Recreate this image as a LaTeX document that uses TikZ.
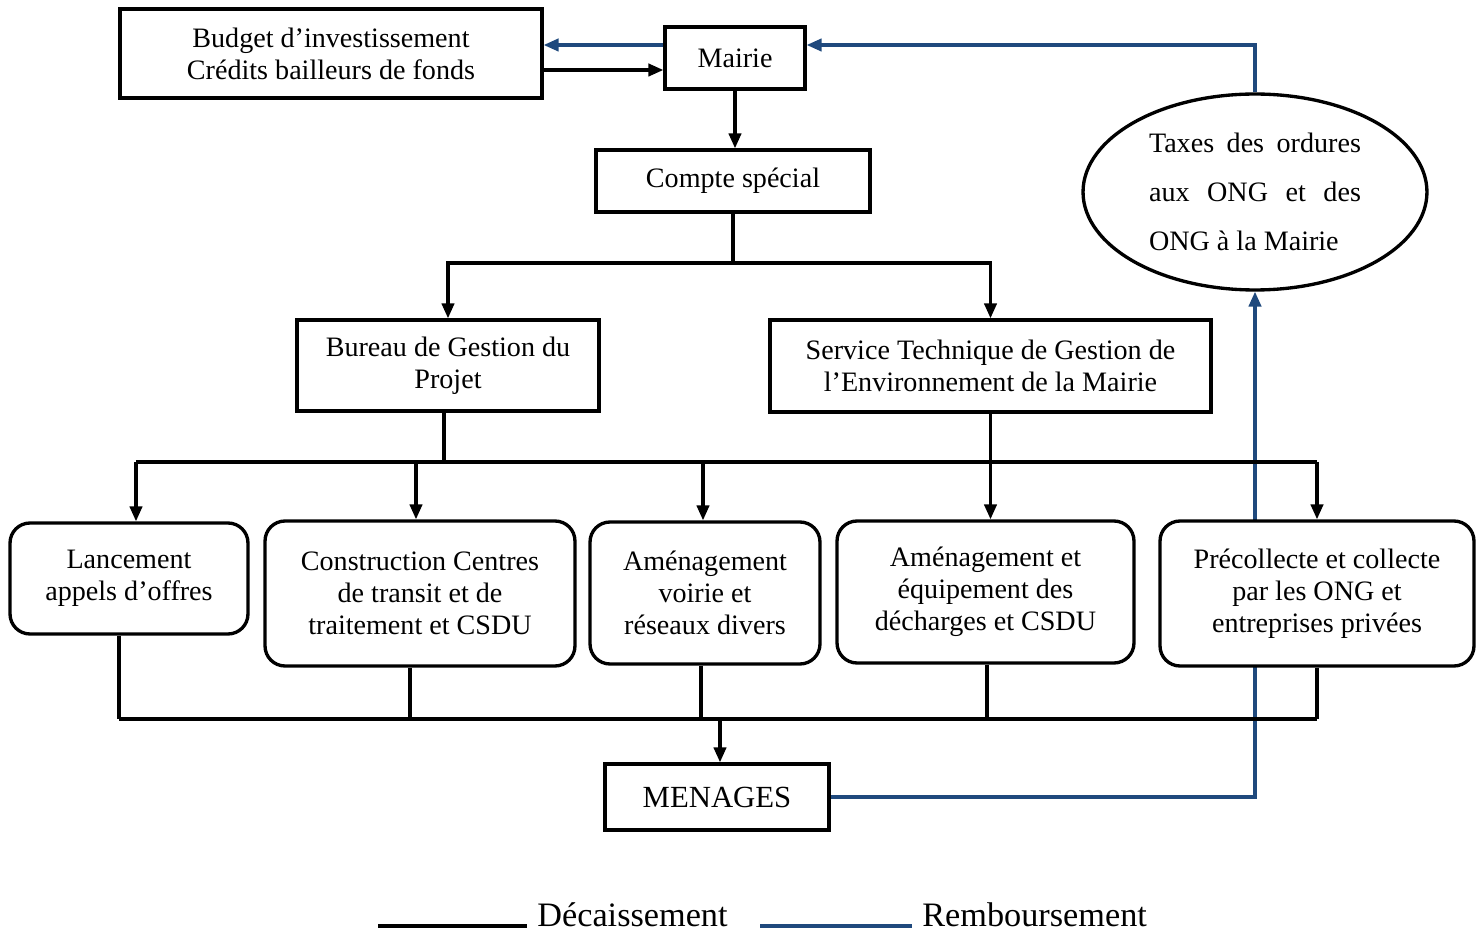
\documentclass[tikz,border=0pt]{standalone}
\usepackage{fontspec}
\setmainfont{Liberation Serif}
\usetikzlibrary{arrows.meta,backgrounds,shapes.geometric}
\definecolor{rblue}{HTML}{1F497D}
\begin{document}
\begin{tikzpicture}[x=0.02cm,y=-0.02cm,
 txt/.style={font=\fontsize{16}{18.1}\selectfont},
 box/.style={txt,draw,line width=1.9pt,fill=white,inner sep=0pt,align=center},
 rbox/.style={box,rounded corners=0.4cm},
 line/.style={line width=1.8pt},
 arr/.style={line,-{Triangle[length=8.5pt,width=7pt]}},
 bline/.style={line width=1.8pt,draw=rblue},
 barr/.style={bline,-{Triangle[length=8.5pt,width=7pt]}},
 legtxt/.style={font=\fontsize{19.5}{22}\selectfont,inner sep=0pt,anchor=base west},
]
\useasboundingbox (0,0) rectangle (1482,932);

% nodes
\node[box,minimum width=8.44cm,minimum height=1.78cm] (budget) at (331,53.5) {Budget d’investissement\\Crédits bailleurs de fonds};
\node[box,minimum width=2.8cm,minimum height=1.24cm] (mairie) at (735,58) {Mairie};
\node[box,minimum width=5.48cm,minimum height=1.24cm] (compte) at (733,181) {Compte spécial};
\node[box,minimum width=6.04cm,minimum height=1.82cm] (bureau) at (448,365.5) {Bureau de Gestion du\\Projet};
\node[box,minimum width=8.82cm,minimum height=1.84cm] (service) at (990.5,366) {Service Technique de Gestion de\\l’Environnement de la Mairie};
\node[txt,draw,ellipse,line width=1.9pt,fill=white,inner sep=0pt,minimum width=6.88cm,minimum height=3.92cm] (ell) at (1255,192)
 {\parbox{4.24cm}{\baselineskip=27.8pt
  \hbox to \linewidth{Taxes\hfill des\hfill ordures}
  \hbox to \linewidth{aux\hfill ONG\hfill et\hfill des}
  \hbox{ONG à la Mairie}}};

\node[rbox,minimum width=4.76cm,minimum height=2.22cm] (lanc) at (129,578.5) {Lancement\\appels d’offres};
\node[rbox,minimum width=6.2cm,minimum height=2.9cm] (constr) at (420,593.5) {Construction Centres\\de transit et de\\traitement et CSDU};
\node[rbox,minimum width=4.6cm,minimum height=2.84cm] (voirie) at (705,593) {Aménagement\\voirie et\\réseaux divers};
\node[rbox,minimum width=5.94cm,minimum height=2.84cm] (dech) at (985.5,592) {Aménagement et\\équipement des\\décharges et CSDU};
\node[rbox,minimum width=6.28cm,minimum height=2.9cm] (prec) at (1317,593.5) {Précollecte et collecte\\par les ONG et\\entreprises privées};
\node[box,minimum width=4.48cm,minimum height=1.32cm,font=\fontsize{17.5}{20}\selectfont] (menages) at (717,797) {MENAGES};

% junction coordinates
\coordinate (bus0) at (0,263);
\coordinate (j1) at (compte.south |- bus0);
\coordinate (bus1) at (0,462);
\coordinate (bus2) at (0,719);

% top connectors
\draw[barr] ([yshift=0.26cm]mairie.west) -- ([yshift=0.26cm]mairie.west -| budget.east);
\draw[arr] ([yshift=-0.33cm]budget.east) -- ([yshift=-0.33cm]budget.east -| mairie.west);
\draw[barr] (ell.north) |- ([yshift=0.26cm]mairie.east);
\draw[arr] (mairie.south) -- (mairie.south |- compte.north);
\draw[line] (compte.south) -- (j1);
\draw[arr] (j1) -| (bureau.north);
\draw[arr] (j1) -| (service.north);

% distribution bus
\draw[line] ([xshift=-0.08cm]bureau.south) -- ([xshift=-0.08cm]bureau.south |- bus1);
\draw[line] ([xshift=0.14cm]lanc.north |- bus1) -- (prec.north |- bus1);
\draw[arr] ([xshift=0.14cm]lanc.north |- bus1) -- ([xshift=0.14cm]lanc.north);
\draw[arr] ([xshift=-0.08cm]constr.north |- bus1) -- ([xshift=-0.08cm]constr.north);
\draw[arr] ([xshift=-0.04cm]voirie.north |- bus1) -- ([xshift=-0.04cm]voirie.north);
\draw[arr] (prec.north |- bus1) -- (prec.north);
\draw[arr] (service.south) -- (service.south |- dech.north);

% collection bus
\draw[line] ([xshift=-0.2cm]lanc.south) -- ([xshift=-0.2cm]lanc.south |- bus2);
\draw[line] ([xshift=-0.2cm]constr.south) -- ([xshift=-0.2cm]constr.south |- bus2);
\draw[line] ([xshift=-0.08cm]voirie.south) -- ([xshift=-0.08cm]voirie.south |- bus2);
\draw[line] ([xshift=0.03cm]dech.south) -- ([xshift=0.03cm]dech.south |- bus2);
\draw[line] (prec.south) -- (prec.south |- bus2);
\draw[line] ([xshift=-0.2cm]lanc.south |- bus2) -- (prec.south |- bus2);
\draw[arr] ([xshift=0.06cm]menages.north |- bus2) -- ([xshift=0.06cm]menages.north);

% blue return from households (behind boxes)
\begin{scope}[on background layer]
\draw[barr] (menages.east) -| (ell.south);
\end{scope}

% legend
\coordinate (la) at (378,926);
\coordinate (lb) at (527,926);
\coordinate (lc) at (760,926);
\coordinate (ld) at (912,926);
\draw[line width=2.8pt] (la) -- (lb);
\draw[line width=2.8pt,draw=rblue] (lc) -- (ld);
\node[legtxt] (l1) at (537,926) {Décaissement};
\node[legtxt] (l2) at (922,926) {Remboursement};
\end{tikzpicture}
\end{document}
